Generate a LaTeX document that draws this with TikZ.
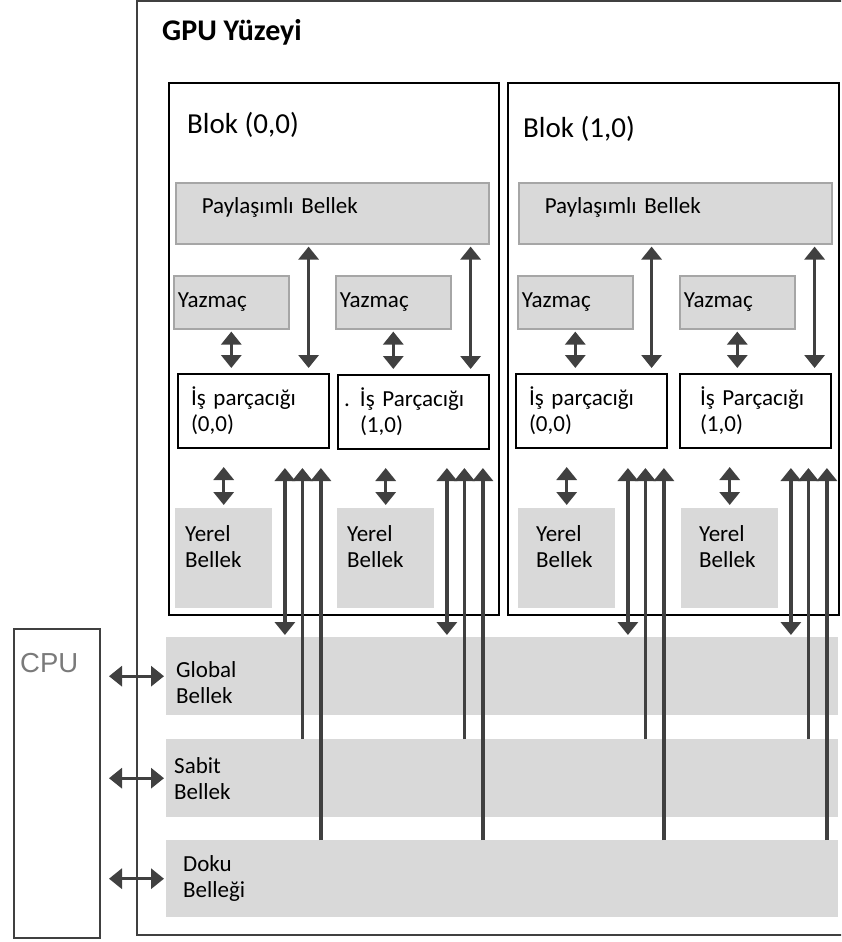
\documentclass[tikz,border=0pt]{standalone}
\usepackage{fontspec}
\setmainfont{Carlito}
\newfontfamily\cpufont{Liberation Sans}
\usetikzlibrary{arrows.meta}

\definecolor{memgray}{HTML}{D9D9D9}
\definecolor{edgegray}{HTML}{A6A6A6}
\definecolor{arrowgray}{HTML}{404040}
\definecolor{cpugray}{HTML}{7A7A7A}

\tikzset{
  basebox/.style={anchor=north west, inner sep=0pt, align=left, font=\fontsize{23}{26}\selectfont},
  gpuline/.style={draw=arrowgray, line width=2pt},
  blockbox/.style={basebox, draw=black, line width=1.6pt},
  shmem/.style={basebox, fill=memgray, draw=edgegray, line width=1.6pt, minimum width=313pt, minimum height=61pt, text width=261pt, text depth=15pt},
  regbox/.style={basebox, fill=memgray, draw=edgegray, line width=1.6pt, minimum width=115pt, minimum height=53pt, text width=107pt},
  thrbox/.style={basebox, fill=white, draw=black, line width=2pt, minimum width=151pt, minimum height=74pt, text width=125pt},
  locmem/.style={basebox, fill=memgray, minimum width=97pt, minimum height=100pt, text width=77pt, text depth=50pt},
  band/.style={basebox, fill=memgray, minimum width=672pt, minimum height=78pt},
  cpubox/.style={basebox, draw=arrowgray, line width=2pt, minimum width=86pt, minimum height=309pt},
  captext/.style={anchor=base west, inner sep=0pt, font=\fontsize{29}{34}\selectfont},
  twoway/.style={draw=arrowgray, line width=3.2pt, <->},
  oneway/.style={draw=arrowgray, line width=3.2pt, ->}
}

\begin{document}
\begin{tikzpicture}[x=1pt, y=-1pt, >={Triangle[width=20pt,length=13pt]}]
    \useasboundingbox (0,0) rectangle (841,942);
    \clip (0,0) rectangle (841,942);
    % GPU surface (its right side lies outside the picture) and CPU
    \draw[gpuline] (860,1) -| (137,935) -- (860,935);
    \node[captext, font=\fontsize{30}{35}\bfseries\selectfont] (gput) at (162,41) {GPU Yüzeyi};
    \node[cpubox] (cpu) at (13,628) {};
    \node[captext, font=\fontsize{27.5}{32}\cpufont, text=cpugray] (cput) at (20,672) {CPU};
    % blocks
    \node[blockbox, minimum width=330pt, minimum height=532pt] (blk0) at (168,82) {};
    \node[blockbox, minimum width=331pt, minimum height=532pt] (blk1) at (507,82) {};
    \node[captext] (blk0t) at (187,133) {Blok (0,0)};
    \node[captext] (blk1t) at (523,137) {Blok (1,0)};
    \node[shmem] (sh0) at (175,182) {Paylaşımlı Bellek};
    \node[shmem] (sh1) at (518,182) {Paylaşımlı Bellek};
    \node[regbox] (yz00) at (173,275) {Yazmaç};
    \node[regbox] (yz01) at (335,275) {Yazmaç};
    \node[regbox] (yz10) at (517,275) {Yazmaç};
    \node[regbox] (yz11) at (679,275) {Yazmaç};
    \node[thrbox] (th00) at (177,373) {İş parçacığı\\(0,0)};
    \node[thrbox, text width=107pt] (th01) at (337,374) {\llap{.\hspace{10pt}}İş Parçacığı\\(1,0)};
    \node[thrbox] (th10) at (515,373) {İş parçacığı\\(0,0)};
    \node[thrbox, text width=111pt] (th11) at (679,373) {İş Parçacığı\\(1,0)};
    \node[locmem] (yb00) at (175,508) {Yerel\\Bellek};
    \node[locmem] (yb01) at (337,508) {Yerel\\Bellek};
    \node[locmem, text width=61pt] (yb10) at (518,508) {Yerel\\Bellek};
    \node[locmem, text width=61pt] (yb11) at (681,508) {Yerel\\Bellek};
    % device memories
    \node[band, text width=652pt, text height=28pt] (glob) at (166,637) {Global\\Bellek};
    \node[band, text width=656pt] (sabit) at (166,739) {Sabit\\Bellek};
    \node[band, text width=638pt, minimum height=77pt] (doku) at (166,840) {Doku\\Belleği};
    % registers and shared memory
    \draw[twoway, shorten <=2pt, shorten >=5pt] (yz00.south) -- (yz00.south |- th00.north);
    \draw[twoway, shorten <=2pt, shorten >=5pt] (yz01.south) -- (yz01.south |- th01.north);
    \draw[twoway, shorten <=2pt, shorten >=5pt] (yz10.south) -- (yz10.south |- th10.north);
    \draw[twoway, shorten <=2pt, shorten >=5pt] (yz11.south) -- (yz11.south |- th11.north);
    \draw[twoway, shorten <=2pt, shorten >=5pt] ([xshift=19pt]yz00.east |- sh0.south) -- ([xshift=19pt]yz00.east |- th00.north);
    \draw[twoway, shorten <=2pt, shorten >=5pt] ([xshift=19pt]yz01.east |- sh0.south) -- ([xshift=19pt]yz01.east |- th01.north);
    \draw[twoway, shorten <=2pt, shorten >=5pt] ([xshift=18pt]yz10.east |- sh1.south) -- ([xshift=18pt]yz10.east |- th10.north);
    \draw[twoway, shorten <=2pt, shorten >=5pt] ([xshift=19pt]yz11.east |- sh1.south) -- ([xshift=19pt]yz11.east |- th11.north);
    % local memory
    \draw[twoway, shorten <=3pt, shorten >=18pt] (yb00.north) -- (yb00.north |- th00.south);
    \draw[twoway, shorten <=3pt, shorten >=18pt] (yb01.north) -- (yb01.north |- th01.south);
    \draw[twoway, shorten <=3pt, shorten >=18pt] (yb10.north) -- (yb10.north |- th10.south);
    \draw[twoway, shorten <=3pt, shorten >=18pt] (yb11.north) -- (yb11.north |- th11.south);
    % global, constant and texture memory
    \draw[twoway, shorten <=2pt, shorten >=19pt] ([xshift=12.5pt]yb00.east |- glob.north) -- ([xshift=12.5pt]yb00.east |- th00.south);
    \draw[oneway, shorten >=19pt] ([xshift=30pt]yb00.east |- sabit.north) -- ([xshift=30pt]yb00.east |- th00.south);
    \draw[oneway, shorten >=19pt] ([xshift=48.5pt]yb00.east |- doku.north) -- ([xshift=48.5pt]yb00.east |- th00.south);
    \draw[twoway, shorten <=2pt, shorten >=18pt] ([xshift=12.5pt]yb01.east |- glob.north) -- ([xshift=12.5pt]yb01.east |- th01.south);
    \draw[oneway, shorten >=18pt] ([xshift=30pt]yb01.east |- sabit.north) -- ([xshift=30pt]yb01.east |- th01.south);
    \draw[oneway, shorten >=18pt] ([xshift=48.5pt]yb01.east |- doku.north) -- ([xshift=48.5pt]yb01.east |- th01.south);
    \draw[twoway, shorten <=2pt, shorten >=19pt] ([xshift=12.5pt]yb10.east |- glob.north) -- ([xshift=12.5pt]yb10.east |- th10.south);
    \draw[oneway, shorten >=19pt] ([xshift=30pt]yb10.east |- sabit.north) -- ([xshift=30pt]yb10.east |- th10.south);
    \draw[oneway, shorten >=19pt] ([xshift=48.5pt]yb10.east |- doku.north) -- ([xshift=48.5pt]yb10.east |- th10.south);
    \draw[twoway, shorten <=2pt, shorten >=19pt] ([xshift=12.5pt]yb11.east |- glob.north) -- ([xshift=12.5pt]yb11.east |- th11.south);
    \draw[oneway, shorten >=19pt] ([xshift=30pt]yb11.east |- sabit.north) -- ([xshift=30pt]yb11.east |- th11.south);
    \draw[oneway, shorten >=19pt] ([xshift=48.5pt]yb11.east |- doku.north) -- ([xshift=48.5pt]yb11.east |- th11.south);
    % CPU links
    \draw[twoway, shorten <=8pt, shorten >=2pt] (cpu.east |- glob.west) -- (glob.west);
    \draw[twoway, shorten <=8pt, shorten >=2pt] (cpu.east |- sabit.west) -- (sabit.west);
    \draw[twoway, shorten <=8pt, shorten >=2pt] (cpu.east |- doku.west) -- (doku.west);
\end{tikzpicture}
\end{document}
